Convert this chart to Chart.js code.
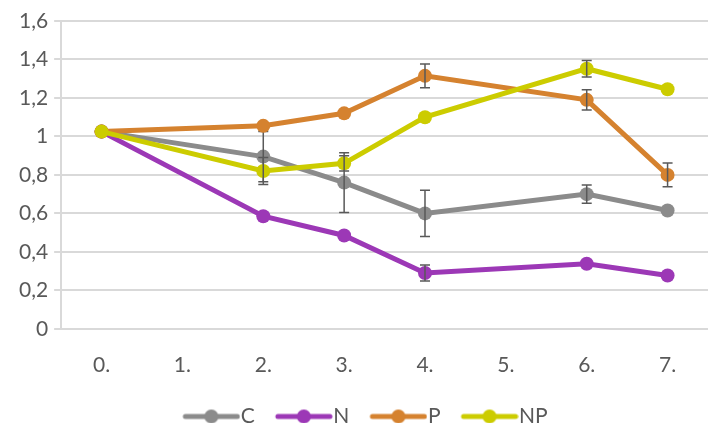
<!DOCTYPE html>
<html>
<head>
<meta charset="utf-8">
<script src="https://cdn.jsdelivr.net/npm/chart.js@4"></script>
<style>
  html, body { margin: 0; padding: 0; background: #fff; }
  #wrap { width: 715px; height: 423px; }
</style>
</head>
<body>
<div id="wrap"><canvas id="chart" width="715" height="423"></canvas></div>
<script>
const categories = ['0.', '1.', '2.', '3.', '4.', '5.', '6.', '7.'];

const seriesNames = ['C', 'N', 'P', 'NP'];
const seriesColors = ['#8b8b8b', '#9c38b6', '#d5822f', '#cccc00'];

// values (null = no measurement, line spans the gap)
const valuesC  = [1.025, null, 0.895, 0.76, 0.60, null, 0.70, 0.615];
const valuesN  = [1.025, null, 0.585, 0.485, 0.29, null, 0.338, 0.277];
const valuesP  = [1.025, null, 1.055, 1.12, 1.315, null, 1.19, 0.80];
const valuesNP = [1.025, null, 0.82, 0.86, 1.10, null, 1.352, 1.245];

// error (+/-) per point, 0 = no visible bar
const errorsC  = [0, null, 0.13, 0.155, 0.12, null, 0.048, 0];
const errorsN  = [0, null, 0, 0, 0.042, null, 0, 0];
const errorsP  = [0, null, 0, 0, 0.062, null, 0.052, 0.062];
const errorsNP = [0, null, 0.07, 0.04, 0, null, 0.043, 0];

const allValues = [valuesC, valuesN, valuesP, valuesNP];
const allErrors = [errorsC, errorsN, errorsP, errorsNP];

const yTicks = { min: 0, max: 1.6, step: 0.2 };

const FONT = 'Lato, "Open Sans", sans-serif';
const TEXT = '#595959';
const GRID = '#d9d9d9';

// legend symbol: short line with a dot
// canvas 70 wide, centred on a 50px box, so it starts 10px left of the box
function legendSymbol(color) {
    let c = document.createElement('canvas');
    c.width = 70; c.height = 16;
    let g = c.getContext('2d');
    g.strokeStyle = color;
    g.lineWidth = 5;
    g.lineCap = 'round';
    g.beginPath();
    g.moveTo(15, 8);
    g.lineTo(67, 8);
    g.stroke();
    g.fillStyle = color;
    g.beginPath();
    g.arc(41, 8, 7, 0, Math.PI * 2);
    g.fill();
    return c;
}

const errorBars = {
    id: 'errorBars',
    afterDatasetDraw(chart, args) {
        let i = args.index;
        let errs = allErrors[i];
        let vals = allValues[i];
        let ctx = chart.ctx;
        let xs = chart.scales.x, ys = chart.scales.y;
        ctx.save();
        ctx.strokeStyle = '#595959';
        ctx.lineWidth = 1.5;
        vals.forEach((v, k) => {
            if (v === null || !errs[k]) return;
            let x = xs.getPixelForValue(k);
            let top = ys.getPixelForValue(v + errs[k]);
            let bot = ys.getPixelForValue(v - errs[k]);
            ctx.beginPath();
            ctx.moveTo(x, top); ctx.lineTo(x, bot);
            ctx.moveTo(x - 5, top); ctx.lineTo(x + 5, top);
            ctx.moveTo(x - 5, bot); ctx.lineTo(x + 5, bot);
            ctx.stroke();
        });
        ctx.restore();
    }
};

let datasets = seriesNames.map((name, i) => ({
    label: name,
    data: allValues[i],
    borderColor: seriesColors[i],
    backgroundColor: seriesColors[i],
    borderWidth: 5,
    pointRadius: 7,
    pointHoverRadius: 7,
    pointBorderWidth: 0,
    pointStyle: 'circle',
    spanGaps: true,
    tension: 0,
    order: seriesNames.length - i
}));

let ctx = document.getElementById('chart').getContext('2d');
let chart = new Chart(ctx, {
    type: 'line',
    data: { labels: categories, datasets: datasets },
    options: {
        responsive: false,
        animation: false,
        layout: { padding: { top: 21, right: 0, left: 13, bottom: -14 } },
        plugins: {
            tooltip: { enabled: false },
            legend: {
                position: 'bottom',
                labels: {
                    usePointStyle: true,
                    pointStyleWidth: 50,
                    padding: 18,
                    color: TEXT,
                    font: { family: FONT, size: 21 },
                    generateLabels: (c) => seriesNames.map((n, i) => ({
                        text: n,
                        datasetIndex: i,
                        pointStyle: legendSymbol(seriesColors[i]),
                        fontColor: TEXT,
                        lineWidth: 0,
                        strokeStyle: 'transparent',
                        fillStyle: seriesColors[i]
                    }))
                }
            }
        },
        scales: {
            x: {
                offset: true,
                grid: { display: false },
                border: { display: false },
                ticks: { color: TEXT, font: { family: FONT, size: 21 }, padding: 16 },
                afterFit: (scale) => { scale.height -= 6; }
            },
            y: {
                min: yTicks.min,
                max: yTicks.max,
                ticks: {
                    stepSize: yTicks.step,
                    color: TEXT,
                    padding: 6,
                    font: { family: FONT, size: 21 },
                    callback: (v) => String(Math.round(v * 10) / 10).replace('.', ',')
                },
                grid: { color: GRID, lineWidth: 2, tickLength: 7 },
                border: { display: true, color: GRID, width: 2 }
            }
        }
    },
    plugins: [errorBars]
});
</script>
</body>
</html>
